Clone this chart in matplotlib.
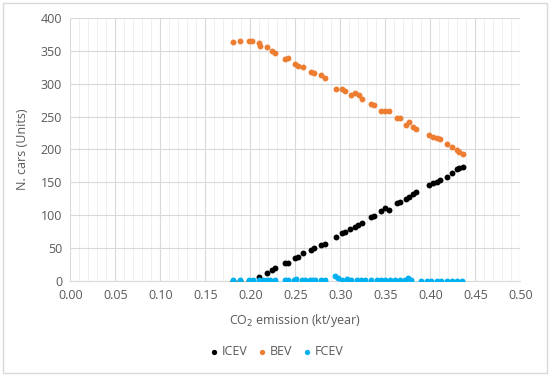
import matplotlib
matplotlib.use("Agg")
import matplotlib.pyplot as plt
from matplotlib.patches import Rectangle
from matplotlib.ticker import MultipleLocator

plt.rcParams['font.family'] = ['Open Sans', 'DejaVu Sans']

# CO2 emission (kt/year) and N. cars per type
x_bev = [0.181, 0.188, 0.199, 0.202, 0.210, 0.211, 0.218, 0.2235, 0.2276, 0.2383,
         0.2413, 0.2498, 0.2535, 0.2587, 0.2669, 0.2706, 0.278, 0.2824, 0.295, 0.3024,
         0.305, 0.3113, 0.3165, 0.3202, 0.3246, 0.3343, 0.3372, 0.3457, 0.3494, 0.3539,
         0.3635, 0.3661, 0.3731, 0.3758, 0.3809, 0.3846, 0.398, 0.4031, 0.4069, 0.4106,
         0.418, 0.4236, 0.4291, 0.432, 0.436]
bev = [363.5, 364.5, 365.5, 365, 362.5, 357.4, 355.4, 350.3, 347.3, 338,
       339, 330, 327.5, 325, 317.4, 317, 312.8, 308.8, 292, 292,
       289, 283, 285.5, 283, 276.8, 269.7, 267, 259, 259, 259,
       248.4, 247.5, 237.8, 241.3, 233.7, 231.7, 222, 219.5, 217, 215.5,
       208.4, 204.3, 199.2, 195.7, 193]

x_icev = [0.181, 0.188, 0.199, 0.202, 0.210, 0.218, 0.2235, 0.2276, 0.2383, 0.2413,
          0.2498, 0.2535, 0.2587, 0.2669, 0.2706, 0.278, 0.2824, 0.295, 0.3013, 0.305,
          0.3106, 0.3161, 0.3198, 0.3246, 0.3346, 0.3372, 0.3457, 0.3494, 0.3542, 0.3635,
          0.3661, 0.3731, 0.3758, 0.3809, 0.3846, 0.398, 0.4031, 0.4069, 0.4106, 0.418,
          0.4236, 0.4291, 0.432, 0.436]
icev = [0, 0, 0, 0, 6, 11.7, 16.7, 19.3, 26.9, 27.9,
        34.5, 37, 42, 47.1, 49.6, 54.8, 56.3, 67.4, 72.5, 75,
        78.6, 82.6, 85.2, 88.7, 96.9, 98.9, 106.5, 110.6, 108, 118.2,
        120.2, 124.2, 127.3, 132.3, 135.9, 146, 148.6, 151, 153.6, 158.6,
        163.7, 169.9, 171.4, 173]

x_fcev = [0.181, 0.188, 0.199, 0.203, 0.210, 0.214, 0.218, 0.222, 0.227, 0.238,
          0.242, 0.248, 0.251, 0.257, 0.261, 0.266, 0.268, 0.272, 0.279, 0.283,
          0.294, 0.2975, 0.3013, 0.307, 0.3124, 0.318, 0.3235, 0.3272, 0.3346, 0.3402,
          0.3457, 0.3494, 0.355, 0.3605, 0.366, 0.3716, 0.3753, 0.379, 0.390, 0.396,
          0.4013, 0.4069, 0.4124, 0.418, 0.4236, 0.430, 0.435]
fcev = [2, 1, 1, 2, 1, 2, 2, 1, 1, 1,
        2, 2, 3, 1, 1, 1, 1, 1, 1, 1,
        7, 4, 2, 3, 1, 1, 1, 1, 1, 2,
        1, 2, 1, 1, 2, 1, 4, 1, 0, 0,
        0, 0, 0, 0, 0, 0, 0]

grey = '#595959'
fs = 9

fig = plt.figure(figsize=(5.5, 3.76), dpi=100)
ax = fig.add_axes([0.128, 0.2527, 0.818, 0.6995])

ax.scatter(x_icev, icev, s=18, color='black', label='ICEV', zorder=3, linewidths=0)
ax.scatter(x_bev, bev, s=18, color='#ED7D31', label='BEV', zorder=3, linewidths=0)
ax.scatter(x_fcev, fcev, s=18, color='#00B0F0', label='FCEV', zorder=3, linewidths=0)

ax.set_xlim(0, 0.5)
ax.set_ylim(0, 400)
ax.xaxis.set_major_locator(MultipleLocator(0.05))
ax.xaxis.set_minor_locator(MultipleLocator(0.01))
ax.yaxis.set_major_locator(MultipleLocator(50))
ax.set_xticklabels([f'{v:.2f}' for v in ax.get_xticks()])
ax.grid(which='major', color='#D9D9D9', linewidth=0.8)
ax.grid(which='minor', axis='x', color='#EFEFEF', linewidth=0.7)
ax.set_axisbelow(True)
for s in ['top', 'right', 'left']:
    ax.spines[s].set_visible(False)
ax.spines['bottom'].set_color('#D9D9D9')
ax.tick_params(which='both', length=0, labelsize=fs, labelcolor=grey, pad=6)

ax.set_xlabel('CO$_2$ emission (kt/year)', fontsize=fs, color=grey, labelpad=7)
ax.set_ylabel('N. cars (Units)', fontsize=fs, color=grey, labelpad=8)

fig.legend(loc='center', bbox_to_anchor=(0.5, 0.064), ncol=3, frameon=False,
           fontsize=fs, labelcolor=grey, handletextpad=0.0, columnspacing=0.6,
           handlelength=1.2, markerscale=0.9)

fig.patches.append(Rectangle((0.005, 0.008), 0.99, 0.984, transform=fig.transFigure,
                             fill=False, edgecolor='#D9D9D9', linewidth=1))

fig.savefig('out.png', dpi=100)
